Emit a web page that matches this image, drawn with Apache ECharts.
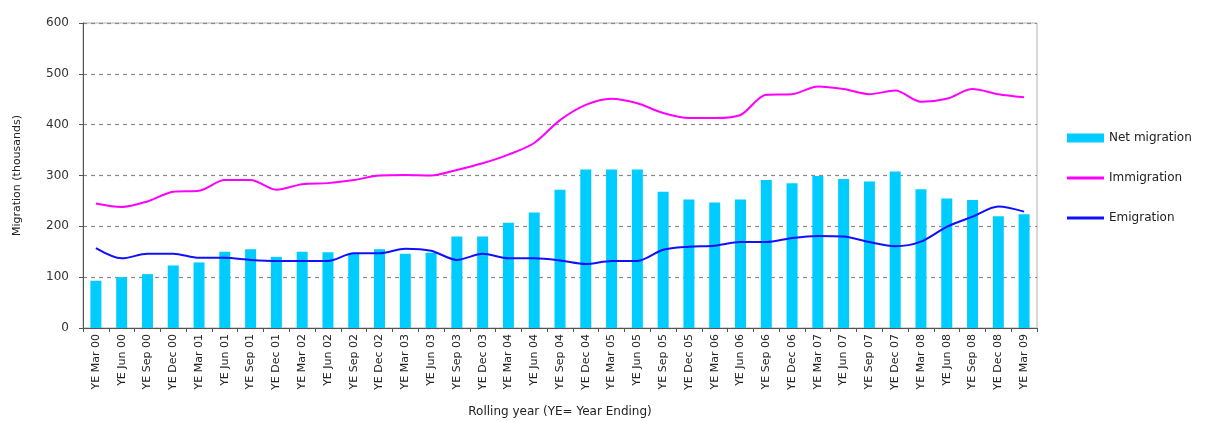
<!DOCTYPE html>
<html>
<head>
<meta charset="utf-8">
<script src="https://cdn.jsdelivr.net/npm/echarts@6/dist/echarts.min.js"></script>
<style>
  html, body { margin: 0; padding: 0; background: #fff; }
  #chart { width: 1205px; height: 422px; }
</style>
</head>
<body>
<div id="chart"></div>
<script>
// quarters, rolling year ending
const categories = [
  'YE Mar 00', 'YE Jun 00', 'YE Sep 00', 'YE Dec 00',
  'YE Mar 01', 'YE Jun 01', 'YE Sep 01', 'YE Dec 01',
  'YE Mar 02', 'YE Jun 02', 'YE Sep 02', 'YE Dec 02',
  'YE Mar 03', 'YE Jun 03', 'YE Sep 03', 'YE Dec 03',
  'YE Mar 04', 'YE Jun 04', 'YE Sep 04', 'YE Dec 04',
  'YE Mar 05', 'YE Jun 05', 'YE Sep 05', 'YE Dec 05',
  'YE Mar 06', 'YE Jun 06', 'YE Sep 06', 'YE Dec 06',
  'YE Mar 07', 'YE Jun 07', 'YE Sep 07', 'YE Dec 07',
  'YE Mar 08', 'YE Jun 08', 'YE Sep 08', 'YE Dec 08',
  'YE Mar 09'
]

const netMigration = [
  93, 100, 106, 123, 129, 150, 155, 140, 150, 149, 146, 155,
  146, 148, 180, 180, 207, 227, 272, 312, 312, 312, 268, 253,
  247, 253, 291, 285, 299, 293, 288, 308, 273, 255, 252, 220, 224
]

const immigration = [
  245, 238, 249, 268, 270, 291, 291, 272, 283, 285, 291, 300,
  301, 300, 311, 324, 341, 364, 409, 439, 451, 442, 423, 413,
  413, 419, 459, 460, 475, 470, 460, 467, 445, 451, 470, 460, 454
]

const emigration = [
  157, 137, 146, 146, 138, 138, 134, 132, 132, 132, 147, 147,
  156, 152, 134, 146, 137, 137, 133, 126, 132, 132, 154, 160,
  162, 169, 169, 177, 181, 180, 169, 161, 170, 199, 219, 239, 229
]

const yTicks = [0, 100, 200, 300, 400, 500, 600]

const chart = echarts.init(document.getElementById('chart'))

const font = 'DejaVu Sans, Verdana, sans-serif'
const lineIcon = 'path://M0,3 L37,3 L37,6 L0,6 Z'

const option = {
  backgroundColor: '#fff',
  textStyle: { fontFamily: font },
  animation: false,
  grid: {
    left: 83,
    right: 168,
    top: 23,
    bottom: 94,
    outerBoundsMode: 'none',
    containLabel: false,
    show: true,
    borderColor: '#b0b0b0',
    borderWidth: 1
  },
  legend: {
    orient: 'vertical',
    left: 1062,
    top: 127,
    itemGap: 28,
    itemWidth: 37,
    itemHeight: 9,
    textStyle: { fontSize: 12, color: '#222', fontFamily: font },
    data: [
      { name: 'Net migration', icon: 'rect' },
      { name: 'Immigration', icon: lineIcon },
      { name: 'Emigration', icon: lineIcon }
    ]
  },
  xAxis: {
    type: 'category',
    data: categories,
    name: 'Rolling year (YE= Year Ending)',
    nameLocation: 'middle',
    nameGap: 78,
    nameTextStyle: { fontSize: 12, color: '#222' },
    axisLine: { lineStyle: { color: '#555', width: 1 } },
    axisTick: { show: true, alignWithLabel: false, length: 4, lineStyle: { color: '#555' } },
    axisLabel: {
      rotate: 90,
      interval: 0,
      fontSize: 11,
      color: '#222',
      margin: 6
    },
    splitLine: { show: false }
  },
  yAxis: {
    type: 'value',
    min: yTicks[0],
    max: yTicks[yTicks.length - 1],
    interval: 100,
    name: 'Migration (thousands)',
    nameLocation: 'middle',
    nameGap: 60,
    nameTextStyle: { fontSize: 11, color: '#222' },
    axisLine: { show: true, lineStyle: { color: '#555', width: 1 } },
    axisTick: { show: true, length: 4, lineStyle: { color: '#555' } },
    axisLabel: { fontSize: 12, color: '#333', margin: 14 },
    splitLine: { show: true, lineStyle: { color: '#888', type: [4, 4], width: 1.2 } }
  },
  series: [
    {
      name: 'Net migration',
      type: 'bar',
      data: netMigration,
      barWidth: 11,
      itemStyle: { color: '#00ccff' },
      z: 1
    },
    {
      name: 'Immigration',
      type: 'line',
      data: immigration,
      smooth: 0.3,
      symbol: 'none',
      lineStyle: { color: '#ff00ff', width: 2 },
      itemStyle: { color: '#ff00ff' },
      z: 3
    },
    {
      name: 'Emigration',
      type: 'line',
      data: emigration,
      smooth: 0.3,
      symbol: 'none',
      lineStyle: { color: '#1010ff', width: 2 },
      itemStyle: { color: '#1010ff' },
      z: 3
    }
  ]
}

chart.setOption(option)
</script>
</body>
</html>
